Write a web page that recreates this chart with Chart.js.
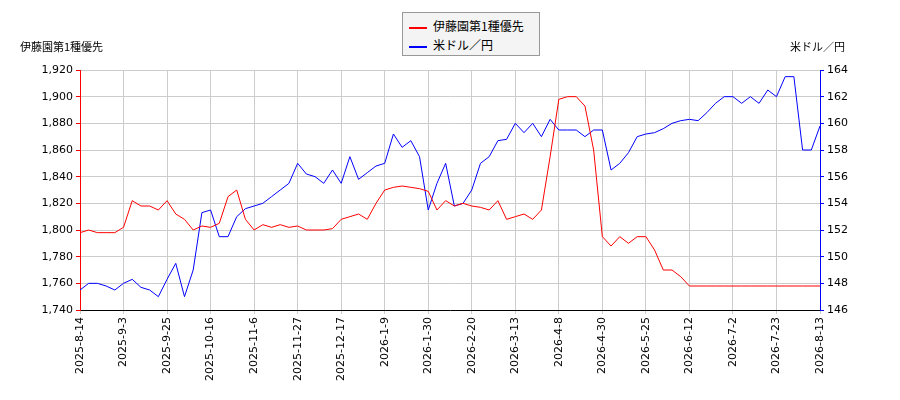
<!DOCTYPE html>
<html><head><meta charset="utf-8">
<script src="https://cdn.jsdelivr.net/npm/chart.js@4"></script>
<style>
body{margin:0;background:#fff;font-family:"Noto Sans CJK JP",sans-serif;}
#wrap{position:relative;width:900px;height:400px;}
#legend{position:absolute;left:402px;top:12px;width:138px;height:44px;border:1px solid #999;background:#f4f4f4;font-size:12px;box-sizing:border-box;padding:3px 0 0 6px;line-height:19px;}
#legend span.l{display:inline-block;width:18px;height:2px;vertical-align:middle;margin-right:6px;}
.t{position:absolute;top:38px;font-size:11px;}
</style></head><body>
<div id="wrap"><canvas id="c" width="900" height="400"></canvas>
<div id="legend"><div><span class="l" style="background:#f00"></span>伊藤園第1種優先</div><div><span class="l" style="background:#00f"></span>米ドル／円</div></div>
<div class="t" style="left:20px">伊藤園第1種優先</div>
<div class="t" style="left:790px">米ドル／円</div>
</div>
<script>
// 軸ラベル（15営業日ごと）
const dateLabels = ['2025-8-14','2025-9-3','2025-9-25','2025-10-16','2025-11-6','2025-11-27','2025-12-17','2026-1-9','2026-1-30','2026-2-20','2026-3-13','2026-4-8','2026-4-30','2026-5-25','2026-6-12','2026-7-2','2026-7-23','2026-8-13'];
const step = 3; // 3営業日ごとの値
const itoenPref = [
  1798,1800,1798,1798,1798, 1802,1822,1818,1818,1815, 1822,1812,1808,1800,1803,
  1802,1805,1825,1830,1808, 1800,1804,1802,1804,1802, 1803,1800,1800,1800,1801,
  1808,1810,1812,1808,1820, 1830,1832,1833,1832,1831, 1829,1815,1822,1818,1820,
  1818,1817,1815,1822,1808, 1810,1812,1808,1815,1855, 1898,1900,1900,1893,1860,
  1795,1788,1795,1790,1795, 1795,1785,1770,1770,1765, 1758,1758,1758,1758,1758,
  1758,1758,1758,1758,1758, 1758,1758,1758,1758,1758, 1758
];
const usdJpy = [
  147.5,148,148,147.8,147.5, 148,148.3,147.7,147.5,147, 148.3,149.5,147,149,153.3,
  153.5,151.5,151.5,153,153.6, 153.8,154,154.5,155,155.5, 157,156.2,156,155.5,156.5,
  155.5,157.5,155.8,156.3,156.8, 157,159.2,158.2,158.7,157.5, 153.5,155.5,157,153.8,154,
  155,157,157.5,158.7,158.8, 160,159.3,160,159,160.3, 159.5,159.5,159.5,159,159.5,
  159.5,156.5,157,157.8,159, 159.2,159.3,159.6,160,160.2, 160.3,160.2,160.8,161.5,162,
  162,161.5,162,161.5,162.5, 162,163.5,163.5,158,158, 159.8
];
const toXY = arr => arr.map((v, i) => ({ x: Math.min(i * step, 255), y: v }));
const font = { family: 'DejaVu Sans', size: 11 };

new Chart(document.getElementById('c'), {
  type: 'line',
  data: {
    datasets: [
      { data: toXY(itoenPref), borderColor: '#f00', borderWidth: 1, pointRadius: 0, yAxisID: 'y', tension: 0 },
      { data: toXY(usdJpy), borderColor: '#00f', borderWidth: 1, pointRadius: 0, yAxisID: 'y1', tension: 0 }
    ]
  },
  options: {
    responsive: false, animation: false,
    layout: { padding: { top: 70, left: 0, right: 0 } },
    plugins: { legend: { display: false }, tooltip: { enabled: false } },
    scales: {
      x: {
        type: 'linear', min: 0, max: 255,
        afterBuildTicks: s => { s.ticks = dateLabels.map((_, i) => ({ value: i * 15 })); },
        afterFit: s => { s.height = 90; },
        grid: { color: '#ccc', drawTicks: true, tickLength: 4 },
        border: { color: '#000' },
        ticks: { color: '#000', font, maxRotation: 90, minRotation: 90, autoSkip: false,
          callback: v => dateLabels[Math.round(v / 15)] }
      },
      y: {
        position: 'left', min: 1740, max: 1920,
        afterFit: s => { s.width = 80; },
        grid: { color: '#ccc', tickLength: 4, tickColor: '#f00' },
        border: { color: '#f00' },
        ticks: { stepSize: 20, color: '#000', font }
      },
      y1: {
        position: 'right', min: 146, max: 164,
        afterFit: s => { s.width = 80; },
        grid: { drawOnChartArea: false, tickLength: 4, tickColor: '#00f' },
        border: { color: '#00f' },
        ticks: { stepSize: 2, color: '#000', font }
      }
    }
  }
});
</script>
</body></html>
